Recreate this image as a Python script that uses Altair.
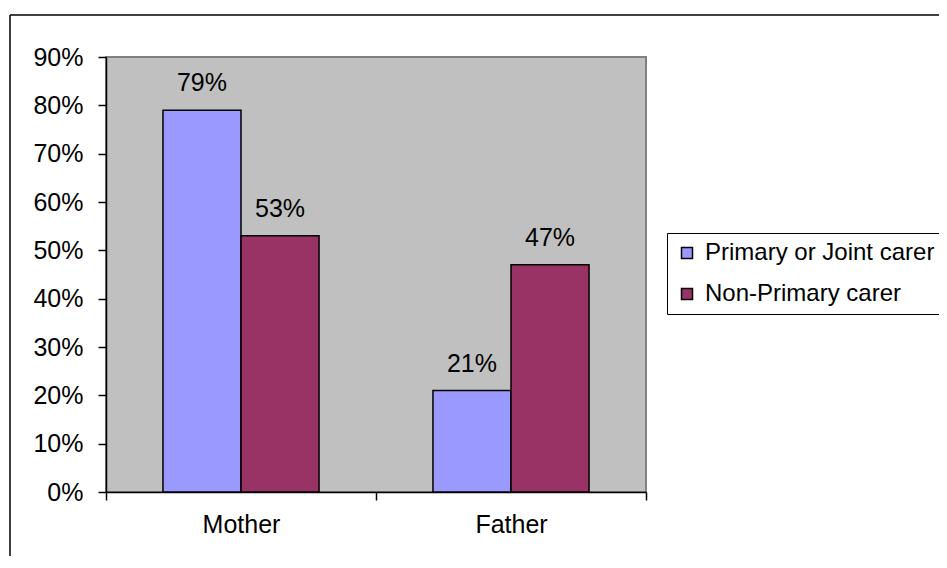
import altair as alt
import pandas as pd

categories = ["Mother", "Father"]
series = ["Primary or Joint carer", "Non-Primary carer"]
primary = [0.79, 0.21]
non_primary = [0.53, 0.47]
colors = ["#9999FF", "#993366"]
y_ticks = [0.0, 0.1, 0.2, 0.3, 0.4, 0.5, 0.6, 0.7, 0.8, 0.9]

rows = []
for i, c in enumerate(categories):
    rows.append({"parent": c, "group": series[0], "share": primary[i]})
    rows.append({"parent": c, "group": series[1], "share": non_primary[i]})
df = pd.DataFrame(rows)

W, H = 540, 435
FONT = "Liberation Sans"

x = alt.X("parent:N", sort=categories, title=None,
          scale=alt.Scale(paddingInner=0, paddingOuter=0),
          axis=alt.Axis(labelAngle=0, tickBand="extent", tickSize=8, tickColor="black",
                        tickWidth=1.5, domainColor="black", domainWidth=1.5,
                        labelFontSize=25, labelFont=FONT, labelColor="black",
                        labelPadding=12))
xo = alt.XOffset("group:N", sort=series,
                 scale=alt.Scale(paddingInner=0, paddingOuter=0.73))
y = alt.Y("share:Q", title=None, scale=alt.Scale(domain=[0, 0.9], nice=False),
          axis=alt.Axis(format=".0%", values=y_ticks, grid=False, tickSize=8,
                        tickColor="black", tickWidth=1.5, domainColor="black",
                        domainWidth=1.5, labelFontSize=25, labelFont=FONT,
                        labelColor="black", labelPadding=15))
color = alt.Color("group:N", sort=series,
                  scale=alt.Scale(domain=series, range=colors),
                  legend=alt.Legend(orient="none", legendX=561, legendY=176, title=None,
                                    labelFontSize=24, labelFont=FONT, labelColor="black",
                                    labelLimit=400, symbolType="square", symbolSize=121,
                                    symbolStrokeColor="black", symbolStrokeWidth=1.5,
                                    symbolOpacity=1, strokeColor="black", fillColor="white",
                                    padding=8, rowPadding=17, labelOffset=6))

bars = alt.Chart(df).mark_bar(stroke="black", strokeWidth=1.5, opacity=1).encode(
    x=x, xOffset=xo, y=y, color=color)

labels = alt.Chart(df).mark_text(dy=-19, baseline="alphabetic", fontSize=25,
                                 font=FONT, color="black").encode(
    x=x, xOffset=xo, y=y, text=alt.Text("share:Q", format=".0%"))

one = pd.DataFrame({"k": [0]})
border_left = alt.Chart(one).mark_rule(color="black", strokeWidth=1.5).encode(
    x=alt.value(-96), y=alt.value(-42), y2=alt.value(H + 120))
border_top = alt.Chart(one).mark_rule(color="black", strokeWidth=1.5).encode(
    x=alt.value(-96), x2=alt.value(W + 320), y=alt.value(-42))

chart = alt.layer(bars, labels, border_left, border_top).properties(
    width=W, height=H,
    background="white",
    padding={"left": 98, "top": 49, "right": 293, "bottom": 64},
    autosize=alt.AutoSizeParams(type="none"),
).configure_view(
    fill="#C0C0C0", stroke="#808080", strokeWidth=2
)

chart.save("out.html", embed_options={"renderer": "svg", "actions": False})
